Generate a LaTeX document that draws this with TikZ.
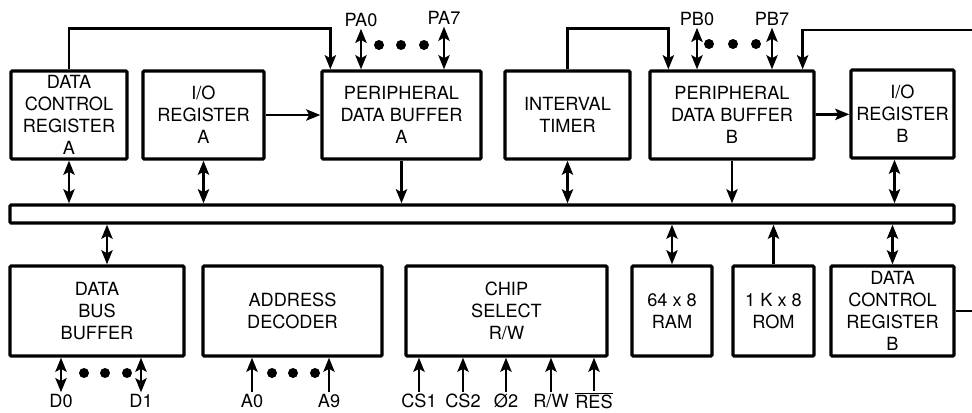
\documentclass[tikz,border=0pt]{standalone}
\usepackage{fontspec}
\setmainfont{TeX Gyre Heros}
\usetikzlibrary{arrows.meta}

\begin{document}
\begin{tikzpicture}[
  x=0.03cm, y=-0.03cm,
  >={Stealth[length=12pt,width=9.5pt,inset=2.5pt]},
  font=\fontsize{15.5}{18.8}\selectfont,
  box/.style={draw, line width=2.8pt, rounded corners=1pt, align=center, inner sep=1pt},
  upper/.style={box, minimum height=2.64cm},
  lower/.style={box, minimum height=2.70cm},
  pin/.style={inner sep=1.5pt},
  flow/.style={->, line width=2.4pt},
  both/.style={<->, line width=2.4pt},
  wire/.style={line width=2.4pt}
]
  \useasboundingbox (0,0) rectangle (972,412);

  \node[upper, minimum width=3.48cm] (dcrA) at (69,115) {DATA\\CONTROL\\REGISTER\\A};
  \node[upper, minimum width=3.63cm] (ioA) at (203.5,115) {I/O\\REGISTER\\A};
  \node[upper, minimum width=4.77cm] (pdbA) at (401.5,115) {PERIPHERAL\\DATA BUFFER\\A};
  \node[upper, minimum width=3.75cm] (timer) at (567.5,115) {INTERVAL\\TIMER};
  \node[upper, minimum width=4.92cm] (pdbB) at (732,115) {PERIPHERAL\\DATA BUFFER\\B};
  \node[upper, minimum width=3.09cm] (ioB) at (902.5,114) {I/O\\REGISTER\\B};
  \node[box, minimum width=28.32cm, minimum height=0.54cm, inner sep=0pt] (bus) at (482,214) {};
  \node[lower, minimum width=5.22cm] (dbb) at (97,311) {DATA\\BUS\\BUFFER};
  \node[lower, minimum width=5.37cm] (addr) at (292.5,311) {ADDRESS\\DECODER};
  \node[lower, minimum width=6.03cm] (cs) at (506.5,311) {CHIP\\SELECT\\R/W};
  \node[lower, minimum width=2.40cm] (ram) at (672,311) {64 x 8\\RAM};
  \node[lower, minimum width=2.43cm] (rom) at (773.5,311) {1 K x 8\\ROM};
  \node[lower, minimum width=3.69cm] (dcrB) at (892.5,311) {DATA\\CONTROL\\REGISTER\\B};

  \node[pin] (pa0) at (361,20) {PA0};
  \node[pin] (pa7) at (444,18) {PA7};
  \node[pin] (pb0) at (697,19) {PB0};
  \node[pin] (pb7) at (772,19) {PB7};
  \node[pin] (d0) at (61,401) {D0};
  \node[pin] (d1) at (141,401) {D1};
  \node[pin] (a0) at (252,401) {A0};
  \node[pin] (a9) at (329,401) {A9};
  \node[pin] (cs1) at (419,401) {CS1};
  \node[pin] (cs2) at (463,401) {CS2};
  \node[pin] (phi) at (506,401) {Ø2};
  \node[pin] (rw) at (551,401) {R/W};
  \node[pin] (res) at (594,401) {$\overline{\mbox{RES}}$};
  \coordinate (exitT) at (972,30);
  \coordinate (exitB) at (972,311);

  \draw[flow] (dcrA.north) -- ++(0,1.23cm) -| ([xshift=0.3cm]pdbA.north west);
  \draw[flow] (timer.north) -- ++(0,1.23cm) -| ([xshift=0.6cm]pdbB.north west);
  \draw[flow] (exitT) -| ([xshift=-0.39cm]pdbB.north east);
  \draw[flow] (ioA) -- (pdbA);
  \draw[flow] (pdbB) -- (ioB);
  \draw[wire] (dcrB.east) -- (exitB);

  \draw[both] (pa0.south |- pdbA.north) -- (pa0.south);
  \draw[both] (pa7.south |- pdbA.north) -- (pa7.south);
  \draw[both] (pb0.south |- pdbB.north) -- (pb0.south);
  \draw[both] (pb7.south |- pdbB.north) -- (pb7.south);

  \draw[both] (dcrA.south) -- (dcrA.south |- bus.north);
  \draw[both] (ioA.south) -- (ioA.south |- bus.north);
  \draw[flow] (pdbA.south) -- (pdbA.south |- bus.north);
  \draw[both] (timer.south) -- (timer.south |- bus.north);
  \draw[flow] (pdbB.south) -- (pdbB.south |- bus.north);
  \draw[both] ([xshift=-0.24cm]ioB.south) -- ([xshift=-0.24cm]ioB.south |- bus.north);

  \draw[both] ([xshift=0.3cm]dbb.north) -- ([xshift=0.3cm]dbb.north |- bus.south);
  \draw[both] (ram.north) -- (ram.north |- bus.south);
  \draw[flow] (rom.north) -- (rom.north |- bus.south);
  \draw[both] (dcrB.north) -- (dcrB.north |- bus.south);

  \draw[both] (d0.north |- dbb.south) -- (d0.north);
  \draw[both] (d1.north |- dbb.south) -- (d1.north);
  \draw[flow] (a0.north) -- (a0.north |- addr.south);
  \draw[flow] (a9.north) -- (a9.north |- addr.south);
  \foreach \p in {cs1,cs2,phi,rw,res}
    \draw[flow] (\p.north) -- (\p.north |- cs.south);

  \foreach \x in {379,401,424} \fill (\x,45) circle (0.15cm);
  \foreach \x in {709,733,756} \fill (\x,44) circle (0.15cm);
  \foreach \x in {84,105,127} \fill (\x,373) circle (0.15cm);
  \foreach \x in {272,293,315} \fill (\x,373) circle (0.15cm);
\end{tikzpicture}
\end{document}
